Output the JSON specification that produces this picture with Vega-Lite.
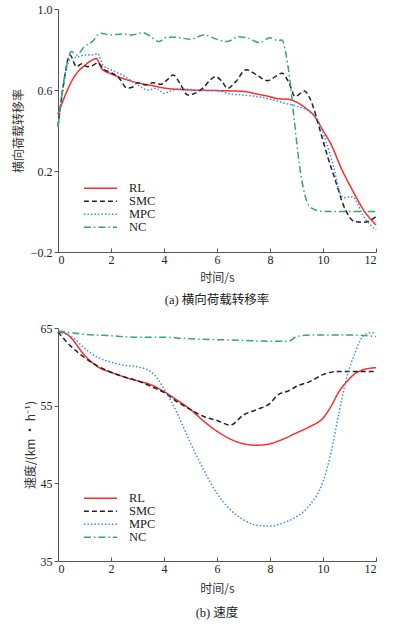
{
  "$schema": "https://vega.github.io/schema/vega-lite/v6.json",
  "background": "white",
  "padding": {"left": 12, "top": 3, "right": 20, "bottom": 5},
  "spacing": 15,
  "config": {
    "view": {"stroke": null},
    "font": "'Liberation Serif', 'Noto Sans CJK SC'",
    "axis": {
      "grid": false,
      "domainColor": "#555",
      "tickColor": "#555",
      "labelFont": "Liberation Serif",
      "labelFontSize": 12,
      "labelColor": "#222",
      "titleFont": "Noto Sans CJK SC",
      "titleFontSize": 12,
      "titleFontWeight": "normal",
      "titleColor": "#333",
      "tickSize": 4
    },
    "title": {"font": "'Liberation Serif', 'Noto Sans CJK SC'", "fontSize": 12.5, "fontWeight": "normal", "color": "#222"},
    "legend": {
      "orient": "none",
      "title": null,
      "symbolType": "stroke",
      "symbolSize": 1100,
      "symbolStrokeWidth": 1.6,
      "labelFont": "Liberation Serif",
      "labelFontSize": 12.5,
      "labelColor": "#222",
      "labelOffset": 11,
      "clipHeight": 10.5,
      "rowPadding": 0
    }
  },
  "datasets": {
    "top": [
      {"t":0,"v":0.48,"m":"RL"},{"t":0.25,"v":0.567,"m":"RL"},{"t":0.5,"v":0.64,"m":"RL"},{"t":0.75,"v":0.69,"m":"RL"},{"t":1,"v":0.72,"m":"RL"},{"t":1.25,"v":0.745,"m":"RL"},{"t":1.45,"v":0.755,"m":"RL"},{"t":1.65,"v":0.705,"m":"RL"},{"t":2,"v":0.68,"m":"RL"},{"t":2.5,"v":0.655,"m":"RL"},{"t":3,"v":0.636,"m":"RL"},{"t":3.5,"v":0.623,"m":"RL"},{"t":4,"v":0.61,"m":"RL"},{"t":4.5,"v":0.603,"m":"RL"},{"t":5,"v":0.6,"m":"RL"},{"t":6,"v":0.597,"m":"RL"},{"t":7,"v":0.593,"m":"RL"},{"t":7.5,"v":0.58,"m":"RL"},{"t":8,"v":0.567,"m":"RL"},{"t":8.3,"v":0.557,"m":"RL"},{"t":8.7,"v":0.554,"m":"RL"},{"t":9,"v":0.54,"m":"RL"},{"t":9.3,"v":0.515,"m":"RL"},{"t":9.69,"v":0.468,"m":"RL"},{"t":10,"v":0.40,"m":"RL"},{"t":10.31,"v":0.33,"m":"RL"},{"t":10.69,"v":0.213,"m":"RL"},{"t":11.07,"v":0.115,"m":"RL"},{"t":11.57,"v":0.0,"m":"RL"},{"t":12,"v":-0.067,"m":"RL"},
      {"t":0,"v":0.42,"m":"SMC"},{"t":0.2,"v":0.62,"m":"SMC"},{"t":0.45,"v":0.773,"m":"SMC"},{"t":0.7,"v":0.715,"m":"SMC"},{"t":0.9,"v":0.73,"m":"SMC"},{"t":1.1,"v":0.715,"m":"SMC"},{"t":1.3,"v":0.72,"m":"SMC"},{"t":1.5,"v":0.735,"m":"SMC"},{"t":1.75,"v":0.70,"m":"SMC"},{"t":2,"v":0.686,"m":"SMC"},{"t":2.3,"v":0.66,"m":"SMC"},{"t":2.6,"v":0.61,"m":"SMC"},{"t":2.8,"v":0.614,"m":"SMC"},{"t":3,"v":0.636,"m":"SMC"},{"t":3.3,"v":0.625,"m":"SMC"},{"t":3.6,"v":0.636,"m":"SMC"},{"t":3.9,"v":0.628,"m":"SMC"},{"t":4.15,"v":0.654,"m":"SMC"},{"t":4.35,"v":0.674,"m":"SMC"},{"t":4.6,"v":0.633,"m":"SMC"},{"t":4.9,"v":0.575,"m":"SMC"},{"t":5.1,"v":0.58,"m":"SMC"},{"t":5.5,"v":0.613,"m":"SMC"},{"t":5.75,"v":0.65,"m":"SMC"},{"t":5.95,"v":0.666,"m":"SMC"},{"t":6.2,"v":0.64,"m":"SMC"},{"t":6.4,"v":0.608,"m":"SMC"},{"t":6.7,"v":0.64,"m":"SMC"},{"t":7.1,"v":0.70,"m":"SMC"},{"t":7.5,"v":0.674,"m":"SMC"},{"t":7.9,"v":0.646,"m":"SMC"},{"t":8.2,"v":0.666,"m":"SMC"},{"t":8.45,"v":0.683,"m":"SMC"},{"t":8.7,"v":0.64,"m":"SMC"},{"t":8.95,"v":0.568,"m":"SMC"},{"t":9.3,"v":0.595,"m":"SMC"},{"t":9.5,"v":0.56,"m":"SMC"},{"t":9.94,"v":0.378,"m":"SMC"},{"t":10.2,"v":0.26,"m":"SMC"},{"t":10.44,"v":0.164,"m":"SMC"},{"t":10.82,"v":0.016,"m":"SMC"},{"t":11.2,"v":-0.05,"m":"SMC"},{"t":11.55,"v":-0.053,"m":"SMC"},{"t":12,"v":-0.025,"m":"SMC"},
      {"t":0,"v":0.42,"m":"MPC"},{"t":0.3,"v":0.70,"m":"MPC"},{"t":0.5,"v":0.756,"m":"MPC"},{"t":0.8,"v":0.765,"m":"MPC"},{"t":1.0,"v":0.773,"m":"MPC"},{"t":1.25,"v":0.773,"m":"MPC"},{"t":1.5,"v":0.78,"m":"MPC"},{"t":1.7,"v":0.723,"m":"MPC"},{"t":2,"v":0.70,"m":"MPC"},{"t":2.5,"v":0.669,"m":"MPC"},{"t":3,"v":0.625,"m":"MPC"},{"t":3.4,"v":0.60,"m":"MPC"},{"t":3.7,"v":0.608,"m":"MPC"},{"t":4,"v":0.584,"m":"MPC"},{"t":4.3,"v":0.597,"m":"MPC"},{"t":4.6,"v":0.608,"m":"MPC"},{"t":5,"v":0.603,"m":"MPC"},{"t":5.5,"v":0.597,"m":"MPC"},{"t":6,"v":0.597,"m":"MPC"},{"t":6.5,"v":0.58,"m":"MPC"},{"t":7,"v":0.575,"m":"MPC"},{"t":7.5,"v":0.567,"m":"MPC"},{"t":8,"v":0.556,"m":"MPC"},{"t":8.5,"v":0.537,"m":"MPC"},{"t":9,"v":0.52,"m":"MPC"},{"t":9.5,"v":0.493,"m":"MPC"},{"t":9.8,"v":0.452,"m":"MPC"},{"t":10.1,"v":0.353,"m":"MPC"},{"t":10.4,"v":0.22,"m":"MPC"},{"t":10.65,"v":0.09,"m":"MPC"},{"t":10.8,"v":0.068,"m":"MPC"},{"t":11.1,"v":0.073,"m":"MPC"},{"t":11.3,"v":0.04,"m":"MPC"},{"t":11.5,"v":-0.017,"m":"MPC"},{"t":11.8,"v":-0.067,"m":"MPC"},{"t":12,"v":-0.09,"m":"MPC"},
      {"t":0,"v":0.42,"m":"NC"},{"t":0.25,"v":0.666,"m":"NC"},{"t":0.5,"v":0.79,"m":"NC"},{"t":0.7,"v":0.773,"m":"NC"},{"t":1.0,"v":0.814,"m":"NC"},{"t":1.3,"v":0.84,"m":"NC"},{"t":1.6,"v":0.88,"m":"NC"},{"t":2,"v":0.872,"m":"NC"},{"t":2.4,"v":0.877,"m":"NC"},{"t":2.8,"v":0.872,"m":"NC"},{"t":3.2,"v":0.883,"m":"NC"},{"t":3.5,"v":0.863,"m":"NC"},{"t":3.8,"v":0.839,"m":"NC"},{"t":4.1,"v":0.86,"m":"NC"},{"t":4.5,"v":0.86,"m":"NC"},{"t":5,"v":0.85,"m":"NC"},{"t":5.5,"v":0.872,"m":"NC"},{"t":6,"v":0.85,"m":"NC"},{"t":6.4,"v":0.839,"m":"NC"},{"t":6.8,"v":0.863,"m":"NC"},{"t":7.2,"v":0.855,"m":"NC"},{"t":7.6,"v":0.834,"m":"NC"},{"t":8.0,"v":0.858,"m":"NC"},{"t":8.3,"v":0.844,"m":"NC"},{"t":8.45,"v":0.847,"m":"NC"},{"t":8.6,"v":0.78,"m":"NC"},{"t":8.72,"v":0.68,"m":"NC"},{"t":8.9,"v":0.47,"m":"NC"},{"t":9.1,"v":0.24,"m":"NC"},{"t":9.3,"v":0.09,"m":"NC"},{"t":9.5,"v":0.024,"m":"NC"},{"t":9.8,"v":0.004,"m":"NC"},{"t":10,"v":0.0,"m":"NC"},{"t":12,"v":0.0,"m":"NC"}
    ],
    "bottom": [
      {"t":0,"v":64.5,"m":"RL"},{"t":0.3,"v":64.3,"m":"RL"},{"t":0.5,"v":63.7,"m":"RL"},{"t":1,"v":61.5,"m":"RL"},{"t":1.5,"v":60.0,"m":"RL"},{"t":2,"v":59.3,"m":"RL"},{"t":2.5,"v":58.7,"m":"RL"},{"t":3,"v":58.2,"m":"RL"},{"t":3.5,"v":57.7,"m":"RL"},{"t":4,"v":56.8,"m":"RL"},{"t":4.5,"v":55.7,"m":"RL"},{"t":5,"v":54.5,"m":"RL"},{"t":5.5,"v":53.0,"m":"RL"},{"t":6,"v":51.7,"m":"RL"},{"t":6.5,"v":50.7,"m":"RL"},{"t":7,"v":50.1,"m":"RL"},{"t":7.5,"v":49.9,"m":"RL"},{"t":8,"v":50.1,"m":"RL"},{"t":8.5,"v":50.7,"m":"RL"},{"t":9,"v":51.5,"m":"RL"},{"t":9.5,"v":52.3,"m":"RL"},{"t":10,"v":53.4,"m":"RL"},{"t":10.3,"v":54.9,"m":"RL"},{"t":10.6,"v":56.8,"m":"RL"},{"t":10.9,"v":58.1,"m":"RL"},{"t":11.2,"v":59.1,"m":"RL"},{"t":11.5,"v":59.6,"m":"RL"},{"t":12,"v":59.9,"m":"RL"},
      {"t":0,"v":64.5,"m":"SMC"},{"t":0.25,"v":63.5,"m":"SMC"},{"t":0.5,"v":62.6,"m":"SMC"},{"t":1,"v":61.2,"m":"SMC"},{"t":1.5,"v":60.1,"m":"SMC"},{"t":2,"v":59.3,"m":"SMC"},{"t":2.5,"v":58.7,"m":"SMC"},{"t":3,"v":58.2,"m":"SMC"},{"t":3.5,"v":57.5,"m":"SMC"},{"t":4,"v":56.7,"m":"SMC"},{"t":4.5,"v":55.5,"m":"SMC"},{"t":5,"v":54.5,"m":"SMC"},{"t":5.5,"v":53.6,"m":"SMC"},{"t":6,"v":53.1,"m":"SMC"},{"t":6.5,"v":52.5,"m":"SMC"},{"t":7,"v":53.8,"m":"SMC"},{"t":7.5,"v":54.5,"m":"SMC"},{"t":8,"v":55.3,"m":"SMC"},{"t":8.3,"v":56.4,"m":"SMC"},{"t":8.7,"v":56.9,"m":"SMC"},{"t":9,"v":57.5,"m":"SMC"},{"t":9.5,"v":58.1,"m":"SMC"},{"t":10,"v":59.0,"m":"SMC"},{"t":10.5,"v":59.4,"m":"SMC"},{"t":11,"v":59.4,"m":"SMC"},{"t":12,"v":59.4,"m":"SMC"},
      {"t":0,"v":64.5,"m":"MPC"},{"t":0.5,"v":63.9,"m":"MPC"},{"t":1,"v":62.4,"m":"MPC"},{"t":1.5,"v":61.2,"m":"MPC"},{"t":2,"v":60.6,"m":"MPC"},{"t":2.5,"v":60.2,"m":"MPC"},{"t":3,"v":60.0,"m":"MPC"},{"t":3.5,"v":59.4,"m":"MPC"},{"t":4,"v":57.2,"m":"MPC"},{"t":4.5,"v":54.0,"m":"MPC"},{"t":5,"v":50.2,"m":"MPC"},{"t":5.5,"v":46.7,"m":"MPC"},{"t":6,"v":43.7,"m":"MPC"},{"t":6.5,"v":41.6,"m":"MPC"},{"t":7,"v":40.3,"m":"MPC"},{"t":7.5,"v":39.6,"m":"MPC"},{"t":8,"v":39.5,"m":"MPC"},{"t":8.5,"v":39.9,"m":"MPC"},{"t":9,"v":40.7,"m":"MPC"},{"t":9.5,"v":42.2,"m":"MPC"},{"t":10,"v":45.2,"m":"MPC"},{"t":10.3,"v":48.9,"m":"MPC"},{"t":10.6,"v":54.0,"m":"MPC"},{"t":10.9,"v":58.7,"m":"MPC"},{"t":11.2,"v":61.7,"m":"MPC"},{"t":11.5,"v":63.9,"m":"MPC"},{"t":11.8,"v":64.4,"m":"MPC"},{"t":12,"v":64.4,"m":"MPC"},
      {"t":0,"v":64.6,"m":"NC"},{"t":0.5,"v":64.4,"m":"NC"},{"t":1,"v":64.2,"m":"NC"},{"t":2,"v":64.0,"m":"NC"},{"t":3,"v":63.8,"m":"NC"},{"t":4,"v":63.8,"m":"NC"},{"t":5,"v":63.6,"m":"NC"},{"t":6,"v":63.5,"m":"NC"},{"t":7,"v":63.4,"m":"NC"},{"t":8,"v":63.3,"m":"NC"},{"t":8.7,"v":63.3,"m":"NC"},{"t":9.0,"v":63.9,"m":"NC"},{"t":9.5,"v":64.1,"m":"NC"},{"t":10,"v":64.1,"m":"NC"},{"t":11,"v":64.1,"m":"NC"},{"t":12,"v":63.9,"m":"NC"}
    ]
  },
  "resolve": {"scale": {"color": "independent", "strokeDash": "independent", "x": "independent", "y": "independent"}, "legend": {"color": "independent", "strokeDash": "independent"}},
  "vconcat": [
    {
      "width": 318,
      "height": 243,
      "data": {"name": "top"},
      "title": {"text": "(a)  横向荷载转移率", "orient": "bottom", "anchor": "middle", "offset": 11},
      "mark": {"type": "line", "strokeWidth": 1.5, "interpolate": "monotone"},
      "encoding": {
        "x": {"field": "t", "type": "quantitative", "scale": {"domain": [0, 12]}, "axis": {"values": [0,2,4,6,8,10,12], "title": "时间/s", "tickSize": -4, "labelPadding": 6, "titlePadding": 7}},
        "y": {"field": "v", "type": "quantitative", "scale": {"domain": [-0.2, 1.0]}, "axis": {"values": [-0.2,0.2,0.6,1.0], "format": ".1f", "title": "横向荷载转移率", "titlePadding": 5}},
        "color": {"field": "m", "type": "nominal", "scale": {"domain": ["RL","SMC","MPC","NC"], "range": ["#ff2a2a","#222222","#3d8bf0","#2eab6a"]}, "legend": {"legendX": 25, "legendY": 174}},
        "strokeDash": {"field": "m", "type": "nominal", "scale": {"domain": ["RL","SMC","MPC","NC"], "range": [[1,0],[5,3],[1.5,2],[7,3,1.5,3]]}, "legend": {"legendX": 25, "legendY": 174}}
      }
    },
    {
      "width": 318,
      "height": 233,
      "data": {"name": "bottom"},
      "title": {"text": "(b)  速度", "orient": "bottom", "anchor": "middle", "offset": 13},
      "mark": {"type": "line", "strokeWidth": 1.5, "interpolate": "monotone"},
      "encoding": {
        "x": {"field": "t", "type": "quantitative", "scale": {"domain": [0, 12]}, "axis": {"values": [0,2,4,6,8,10,12], "title": "时间/s", "tickSize": -4, "labelPadding": 6, "titlePadding": 9}},
        "y": {"field": "v", "type": "quantitative", "scale": {"domain": [35, 65]}, "axis": {"values": [35,45,55,65], "title": "速度/(km • h⁻¹)", "titlePadding": 3}},
        "color": {"field": "m", "type": "nominal", "scale": {"domain": ["RL","SMC","MPC","NC"], "range": ["#ff2a2a","#222222","#3d8bf0","#2eab6a"]}, "legend": {"legendX": 25, "legendY": 165}},
        "strokeDash": {"field": "m", "type": "nominal", "scale": {"domain": ["RL","SMC","MPC","NC"], "range": [[1,0],[5,3],[1.5,2],[7,3,1.5,3]]}, "legend": {"legendX": 25, "legendY": 165}}
      }
    }
  ]
}
